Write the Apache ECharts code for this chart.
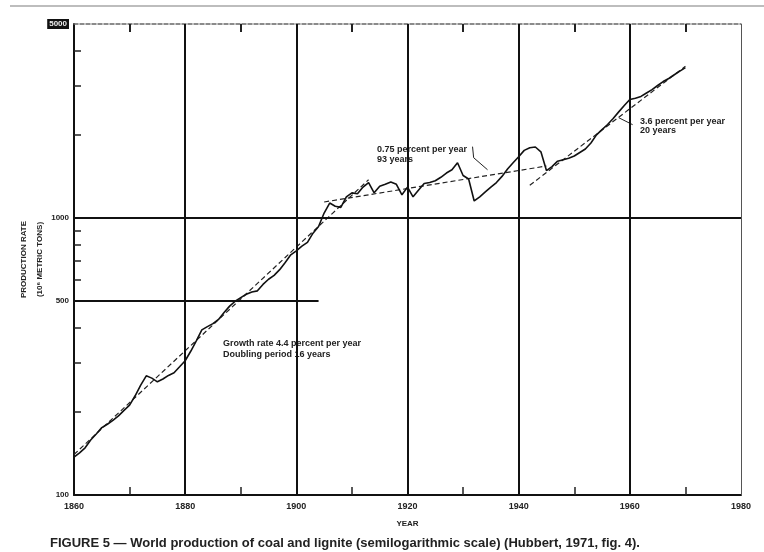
<!DOCTYPE html>
<html><head><meta charset="utf-8">
<script src="https://cdn.jsdelivr.net/npm/echarts@6/dist/echarts.min.js"></script>
<style>html,body{margin:0;padding:0;background:#fff}#c{width:764px;height:552px}</style>
</head><body><div id="c"></div>
<script>
// ---- data ----
const years = [1860,1861,1862,1863,1864,1865,1866,1867,1868,1869,
  1870,1871,1872,1873,1874,1875,1876,1877,1878,1879,
  1880,1881,1882,1883,1884,1885,1886,1887,1888,1889,
  1890,1891,1892,1893,1894,1895,1896,1897,1898,1899,
  1900,1901,1902,1903,1904,1905,1906,1907,1908,1909,
  1910,1911,1912,1913,1914,1915,1916,1917,1918,1919,
  1920,1921,1922,1923,1924,1925,1926,1927,1928,1929,
  1930,1931,1932,1933,1934,1935,1936,1937,1938,1939,
  1940,1941,1942,1943,1944,1945,1946,1947,1948,1949,
  1950,1951,1952,1953,1954,1955,1956,1957,1958,1959,
  1960,1961,1962,1963,1964,1965,1966,1967,1968,1969,1970];
const production = [137,142,148,158,166,175,180,186,193,202,
  211,228,249,269,264,256,262,270,276,290,
  305,330,360,394,405,415,430,455,480,500,
  515,530,540,545,575,600,620,650,690,735,
  760,790,815,880,930,1040,1130,1100,1090,1190,
  1230,1220,1290,1340,1230,1300,1320,1345,1320,1210,
  1290,1190,1260,1330,1340,1360,1400,1450,1490,1580,
  1420,1380,1150,1190,1240,1290,1340,1410,1500,1580,
  1660,1750,1790,1800,1730,1480,1530,1600,1620,1640,
  1670,1720,1770,1860,1990,2080,2170,2280,2410,2540,
  2670,2700,2740,2820,2900,3000,3100,3180,3280,3380,3480];

// trend lines (endpoints)
const trend1Years = [1860, 1913], trend1Values = [140, 1372];   // 4.4 %/yr
const trend2Years = [1905, 1945], trend2Values = [1140, 1537];  // 0.75 %/yr
const trend3Years = [1942, 1970], trend3Values = [1310, 3520];  // 3.6 %/yr

// annotation leader lines
const leader1Years = [1931.7, 1931.9, 1934.4], leader1Values = [1805, 1647, 1490];
const leader2Years = [1958.0, 1960.5], leader2Values = [2296, 2167];

// axes
const xTickLabels = [1860, 1880, 1900, 1920, 1940, 1960, 1980];
const xMinorTicks = [1870, 1890, 1910, 1930, 1950, 1970];
const yTickLabels = [100, 500, 1000, 5000];
const yMinorTicks = [200, 300, 400, 500, 600, 700, 800, 900, 1000, 2000, 3000, 4000];
const gridYears = [1880, 1900, 1920, 1940, 1960];

const annotations = [
  ['Growth rate 4.4 percent per year', 223, 344],
  ['Doubling period 16 years', 223, 355],
  ['0.75 percent per year', 377, 150],
  ['93 years', 377, 160],
  ['3.6 percent per year', 640, 122],
  ['20 years', 640, 131]
];
const caption = 'FIGURE 5 \u2014 World production of coal and lignite (semilogarithmic scale) (Hubbert, 1971, fig. 4).';

// ---- chart ----
const FONT = '"Liberation Sans", Arial, sans-serif';
const pair = (xs, ys) => xs.map((x, i) => [x, ys[i]]);
const chart = echarts.init(document.getElementById('c'), null, {renderer: 'canvas'});

const trendSeries = (xs, ys) => ({
  type: 'line', data: pair(xs, ys), symbol: 'none', silent: true,
  lineStyle: {color: '#222', width: 1.2, type: [5, 3]}, z: 3
});

chart.setOption({
  animation: false,
  backgroundColor: '#fff',
  grid: {left: 74, right: 23, top: 24, bottom: 57, containLabel: false, outerBoundsMode: 'none'},
  xAxis: [{
    type: 'value', min: 1860, max: 1980, interval: 20,
    name: 'YEAR', nameLocation: 'middle', nameGap: 25,
    nameTextStyle: {fontSize: 8, fontWeight: 'bold', color: '#222', fontFamily: FONT},
    axisLine: {show: true, lineStyle: {color: '#111', width: 2}},
    axisTick: {show: true, inside: true, length: 8, customValues: xMinorTicks, lineStyle: {color: '#222', width: 1.5}},
    axisLabel: {customValues: xTickLabels, formatter: v => String(v), fontSize: 9, fontWeight: 'bold', color: '#222', fontFamily: FONT, margin: 7},
    splitLine: {show: false}
  }, {
    type: 'value', min: 1860, max: 1980, position: 'top',
    axisLine: {show: true, lineStyle: {color: '#666', width: 1.5, type: [4, 2]}},
    axisTick: {show: true, inside: true, length: 8, customValues: xMinorTicks, lineStyle: {color: '#222', width: 2}},
    axisLabel: {show: false},
    splitLine: {show: false}
  }],
  yAxis: {
    type: 'log', logBase: 10, min: 100, max: 5000,
    name: 'PRODUCTION RATE\n(10\u2076 METRIC TONS)', nameLocation: 'middle', nameGap: 26, nameRotate: 90,
    nameMoveOverlap: false,
    nameTextStyle: {fontSize: 8, fontWeight: 'bold', color: '#222', fontFamily: FONT, lineHeight: 16},
    axisLine: {show: true, lineStyle: {color: '#111', width: 2}},
    axisTick: {show: true, inside: true, length: 7, customValues: yMinorTicks, lineStyle: {color: '#222', width: 1.5}},
    axisLabel: {
      customValues: yTickLabels, fontSize: 8, fontWeight: 'bold', color: '#222', fontFamily: FONT, margin: 5,
      formatter: v => v === 5000 ? '{b|5000}' : String(v),
      rich: {b: {backgroundColor: '#111', color: '#eee', fontSize: 8, fontWeight: 'bold', padding: [1, 2]}}
    },
    splitLine: {show: false}, minorTick: {show: false}
  },
  series: [{
    type: 'line', data: pair(years, production), symbol: 'none', silent: true, z: 4,
    lineStyle: {color: '#111', width: 1.6},
    markLine: {
      silent: true, symbol: 'none', label: {show: false}, animation: false,
      lineStyle: {color: '#111', width: 2, type: 'solid'},
      data: [
        ...gridYears.map(y => ({xAxis: y})),
        {yAxis: 1000},
        [{coord: [1860, 500]}, {coord: [1904, 500]}],
        {xAxis: 1980, lineStyle: {color: '#555', width: 1}}
      ]
    }
  },
  trendSeries(trend1Years, trend1Values),
  trendSeries(trend2Years, trend2Values),
  trendSeries(trend3Years, trend3Values),
  {type: 'line', data: pair(leader1Years, leader1Values), symbol: 'none', silent: true, lineStyle: {color: '#222', width: 1}},
  {type: 'line', data: pair(leader2Years, leader2Values), symbol: 'none', silent: true, lineStyle: {color: '#222', width: 1}}
  ],
  graphic: [
    {type: 'rect', shape: {x: 10, y: 5, width: 754, height: 2}, style: {fill: '#bdbdbd'}, silent: true},
    ...annotations.map(a => ({
      type: 'text', x: a[1], y: a[2], silent: true,
      style: {text: a[0], fontSize: 9, fontWeight: 'bold', fontFamily: FONT, fill: '#222', verticalAlign: 'middle', textVerticalAlign: 'middle'}
    })),
    {type: 'text', x: 50, y: 543, silent: true,
     style: {text: caption, fontSize: 13, fontWeight: 'bold', fontFamily: FONT, fill: '#222', verticalAlign: 'middle', textVerticalAlign: 'middle'}}
  ]
});
</script>
</body></html>
